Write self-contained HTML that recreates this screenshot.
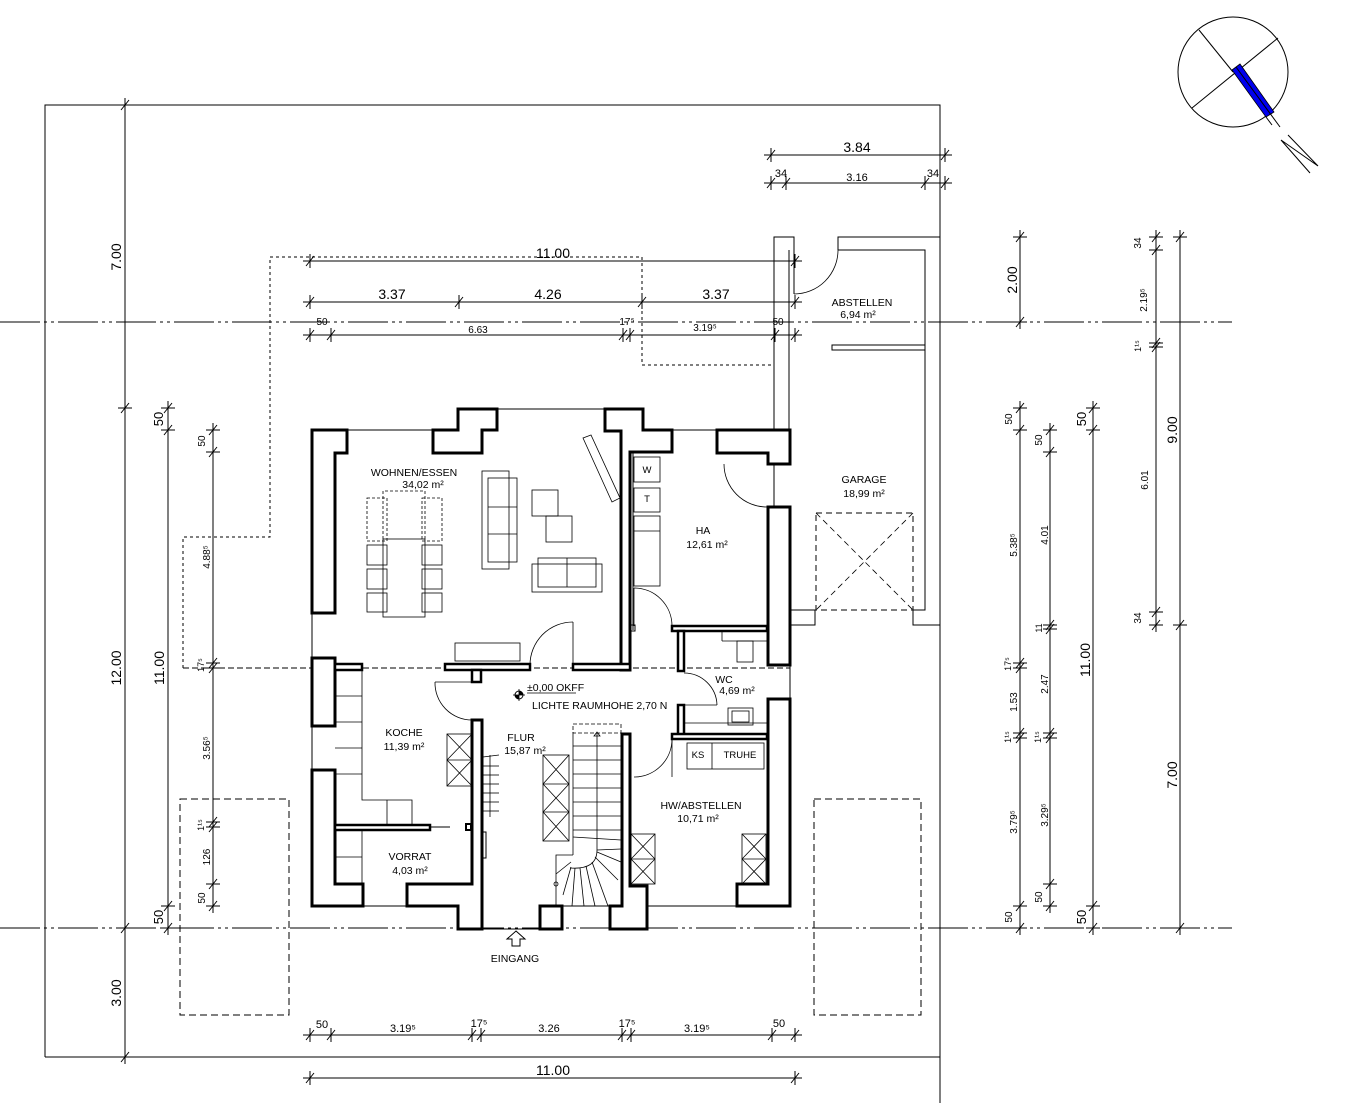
<!DOCTYPE html>
<html><head><meta charset="utf-8"><style>
html,body{margin:0;padding:0;background:#fff;}
svg{display:block;}
text{font-family:"Liberation Sans",sans-serif;fill:#000;}
.d{font-size:13px;}
.r{font-size:10.5px;}
.w{fill:#fff;stroke:#000;stroke-width:3;stroke-linejoin:miter;}
.t{fill:none;stroke:#000;stroke-width:1;}
.th{fill:none;stroke:#000;stroke-width:0.8;}
</style></head><body>
<svg width="1357" height="1103" viewBox="0 0 1357 1103" xmlns="http://www.w3.org/2000/svg">
<defs>
<g id="k"><line x1="0" y1="-7" x2="0" y2="7" stroke="#000" stroke-width="1"/><line x1="-7" y1="0" x2="7" y2="0" stroke="#000" stroke-width="1"/><line x1="-4" y1="5" x2="4" y2="-5" stroke="#000" stroke-width="1"/></g>
</defs>

<!-- site boundary -->
<polyline class="t" points="45,1057 45,105 940,105 940,1103"/>
<line class="t" x1="45" y1="1057" x2="940" y2="1057"/>

<!-- axis lines -->
<line x1="0" y1="322" x2="1232" y2="322" stroke="#000" stroke-width="1" stroke-dasharray="40,4,3,4,3,4"/>
<line x1="0" y1="928" x2="1232" y2="928" stroke="#000" stroke-width="1" stroke-dasharray="40,4,3,4,3,4"/>
<line x1="183" y1="668" x2="790" y2="668" stroke="#000" stroke-width="1" stroke-dasharray="6,3"/>

<!-- dotted overhang -->
<polyline fill="none" stroke="#000" stroke-width="1" stroke-dasharray="3,3" points="183,668 183,537 270,537 270,257 642,257 642,365 774,365"/>
<!-- bottom dashed rects -->
<rect x="180" y="799" width="109" height="216" fill="none" stroke="#000" stroke-width="1" stroke-dasharray="7,4"/>
<rect x="814" y="799" width="107" height="216" fill="none" stroke="#000" stroke-width="1" stroke-dasharray="7,4"/>

<!-- abstellen / garage thin walls -->
<polyline class="t" points="774,612 774,237 794,237 794,294"/>
<line class="t" x1="789" y1="250" x2="789" y2="430"/>
<path class="th" d="M794,294 A44,44 0 0 0 838,250"/>
<polyline class="t" points="838,250 838,237 940,237"/>
<polyline class="t" points="838,250 925,250 925,610 913,610 913,625 940,625"/>
<polyline class="t" points="790,610 815,610 815,625 790,625"/>
<rect class="t" x="832" y="345" width="93" height="5"/>
<rect x="816" y="513" width="97" height="97" fill="none" stroke="#000" stroke-width="1" stroke-dasharray="6,4"/>
<line x1="816" y1="513" x2="913" y2="610" stroke="#000" stroke-width="0.8" stroke-dasharray="6,4"/>
<line x1="913" y1="513" x2="816" y2="610" stroke="#000" stroke-width="0.8" stroke-dasharray="6,4"/>

<!-- thin outline between walls -->
<line class="t" x1="347" y1="430" x2="433" y2="430"/>
<line class="t" x1="497" y1="409" x2="605" y2="409"/>
<line class="t" x1="672" y1="430" x2="717" y2="430"/>
<line class="t" x1="312" y1="613" x2="312" y2="770"/>
<line class="t" x1="790" y1="665" x2="790" y2="699"/>
<line class="t" x1="363" y1="906" x2="407" y2="906"/>
<line class="t" x1="647" y1="906" x2="737" y2="906"/>
<line class="t" x1="482" y1="929" x2="540" y2="929"/>
<line class="t" x1="562" y1="906" x2="610" y2="906"/>

<!-- walls -->
<polygon class="w" points="312,430 347,430 347,453 335,453 335,613 312,613"/>
<polygon class="w" points="433,430 458,430 458,409 497,409 497,430 482,430 482,453 433,453"/>
<polygon class="w" points="605,409 643,409 643,430 672,430 672,452 630,452 630,670 621,670 621,431 605,431"/>
<polygon class="w" points="717,430 790,430 790,464 768,464 768,453 717,453"/>
<rect class="w" x="768" y="507" width="22" height="158"/>
<polygon class="w" points="768,699 790,699 790,906 737,906 737,884 768,884"/>
<rect class="w" x="312" y="658" width="23" height="68"/>
<polygon class="w" points="312,770 335,770 335,884 363,884 363,906 312,906"/>
<polygon class="w" points="407,884 472,884 472,720 482,720 482,929 458,929 458,906 407,906"/>
<rect class="w" x="540" y="906" width="22" height="23"/>
<polygon class="w" points="622,734 630,734 630,886 647,886 647,929 610,929 610,906 622,906"/>
<rect class="w" x="335" y="664" width="27" height="6" style="stroke-width:2.5"/>
<rect class="w" x="445" y="664" width="85" height="6" style="stroke-width:2.5"/>
<rect class="w" x="472" y="670" width="9" height="12" style="stroke-width:2.5"/>
<rect class="w" x="573" y="664" width="57" height="6" style="stroke-width:2.5"/>
<rect class="w" x="672" y="626" width="95" height="5" style="stroke-width:2.5"/>
<rect class="w" x="678" y="631" width="6" height="40" style="stroke-width:2.5"/>
<rect class="w" x="678" y="705" width="6" height="30" style="stroke-width:2.5"/>
<rect class="w" x="672" y="734" width="95" height="5" style="stroke-width:2.5"/>
<rect class="w" x="335" y="825" width="95" height="5" style="stroke-width:2.5"/>
<line class="t" x1="430" y1="827" x2="450" y2="827"/>
<rect class="w" x="466" y="824" width="5" height="6" style="stroke-width:2"/>
<line class="t" x1="633" y1="452" x2="633" y2="630"/>
<rect class="t" x="631" y="625" width="4" height="6"/>
<line class="th" x1="684" y1="705" x2="717" y2="705"/>
<line class="th" x1="684" y1="723" x2="767" y2="723"/>
<rect class="t" x="483" y="832" width="3" height="26"/>

<!-- doors -->
<path class="th" d="M724,464 A43,43 0 0 0 767,507"/>
<path class="th" d="M634,588 A38,38 0 0 1 672,626"/>
<line class="th" x1="634" y1="588" x2="634" y2="626"/>
<path class="th" d="M530,665 A43,43 0 0 1 573,622"/>
<line class="th" x1="573" y1="622" x2="573" y2="665"/>
<path class="th" d="M435,682 A37,37 0 0 0 472,720"/>
<line class="th" x1="435" y1="682" x2="472" y2="682"/>
<path class="th" d="M684,673 A33,33 0 0 1 717,705"/>
<path class="th" d="M634,777 A38,38 0 0 0 672,739"/>
<line class="th" x1="672" y1="739" x2="672" y2="777"/>

<!-- furniture -->
<rect class="th" x="482" y="471" width="27" height="98"/>
<rect class="th" x="488" y="478" width="29" height="84"/>
<line class="th" x1="488" y1="507" x2="517" y2="507"/><line class="th" x1="488" y1="534" x2="517" y2="534"/>
<rect class="th" x="532" y="490" width="26" height="26"/>
<rect class="th" x="546" y="516" width="26" height="26"/>
<rect class="th" x="532" y="564" width="70" height="28"/>
<rect class="th" x="538" y="558" width="58" height="29" fill="#fff"/>
<line class="th" x1="567" y1="558" x2="567" y2="587"/>
<polygon class="th" points="583,438 591,435 620,498 612,502"/>
<rect class="th" x="383" y="539" width="42" height="78"/>
<rect class="th" x="367" y="545" width="20" height="20"/><rect class="th" x="367" y="569" width="20" height="20"/><rect class="th" x="367" y="593" width="20" height="19"/>
<rect class="th" x="422" y="545" width="20" height="20"/><rect class="th" x="422" y="569" width="20" height="20"/><rect class="th" x="422" y="593" width="20" height="19"/>
<g stroke="#000" stroke-width="0.8" fill="none" stroke-dasharray="3,2">
<rect x="367" y="498" width="20" height="43"/><rect x="422" y="498" width="20" height="43"/>
<polyline points="383,539 383,491 425,491 425,539"/>
</g>
<rect class="th" x="455" y="643" width="65" height="18"/>
<rect class="th" x="634" y="457" width="26" height="25"/>
<rect class="th" x="634" y="488" width="26" height="24"/>
<rect class="th" x="634" y="516" width="26" height="70"/>
<line class="th" x1="634" y1="531" x2="660" y2="531"/>
<rect class="th" x="737" y="641" width="16" height="21"/>
<line class="th" x1="722" y1="631" x2="722" y2="641"/><line class="th" x1="722" y1="641" x2="767" y2="641"/>
<rect class="th" x="728" y="708" width="25" height="17"/>
<rect class="th" x="732" y="711" width="17" height="11"/>
<rect class="th" x="687" y="743" width="77" height="26"/>
<line class="th" x1="712" y1="743" x2="712" y2="769"/>
<g class="th">
<rect x="631" y="834" width="24" height="50"/><line x1="631" y1="834" x2="655" y2="859"/><line x1="655" y1="834" x2="631" y2="859"/><line x1="631" y1="859" x2="655" y2="884"/><line x1="655" y1="859" x2="631" y2="884"/><line x1="631" y1="859" x2="655" y2="859"/>
<rect x="742" y="834" width="24" height="50"/><line x1="742" y1="834" x2="766" y2="859"/><line x1="766" y1="834" x2="742" y2="859"/><line x1="742" y1="859" x2="766" y2="884"/><line x1="766" y1="859" x2="742" y2="884"/><line x1="742" y1="859" x2="766" y2="859"/>
<rect x="447" y="734" width="25" height="52"/><line x1="447" y1="734" x2="472" y2="760"/><line x1="472" y1="734" x2="447" y2="760"/><line x1="447" y1="760" x2="472" y2="786"/><line x1="472" y1="760" x2="447" y2="786"/><line x1="447" y1="760" x2="472" y2="760"/>
<rect x="543" y="755" width="26" height="86"/>
<line x1="543" y1="784" x2="569" y2="784"/><line x1="543" y1="812" x2="569" y2="812"/>
<line x1="543" y1="755" x2="569" y2="784"/><line x1="569" y1="755" x2="543" y2="784"/>
<line x1="543" y1="784" x2="569" y2="812"/><line x1="569" y1="784" x2="543" y2="812"/>
<line x1="543" y1="812" x2="569" y2="841"/><line x1="569" y1="812" x2="543" y2="841"/>
<!-- kitchen counter -->
<polyline points="362,670 362,800 412,800 412,825"/>
<line x1="387" y1="800" x2="387" y2="825"/>
<line x1="335" y1="696" x2="362" y2="696"/><line x1="335" y1="722" x2="362" y2="722"/><line x1="335" y1="748" x2="362" y2="748"/><line x1="335" y1="774" x2="362" y2="774"/>
<line x1="362" y1="830" x2="362" y2="884"/><line x1="335" y1="857" x2="362" y2="857"/>
<!-- rail stair -->
<line x1="483" y1="757" x2="499" y2="755"/><line x1="483" y1="766" x2="499" y2="766"/><line x1="483" y1="775" x2="499" y2="775"/><line x1="483" y1="784" x2="499" y2="784"/><line x1="483" y1="793" x2="499" y2="793"/><line x1="483" y1="802" x2="499" y2="802"/><line x1="483" y1="811" x2="499" y2="811"/>
<line x1="490" y1="755" x2="490" y2="817"/>
<!-- stairs -->
<line x1="573" y1="732" x2="573" y2="855"/>
<line x1="573" y1="746" x2="621" y2="746"/><line x1="573" y1="760" x2="621" y2="760"/><line x1="573" y1="774" x2="621" y2="774"/><line x1="573" y1="788" x2="621" y2="788"/><line x1="573" y1="802" x2="621" y2="802"/><line x1="573" y1="816" x2="621" y2="816"/><line x1="573" y1="830" x2="621" y2="830"/><line x1="573" y1="837" x2="621" y2="840"/>
<line x1="597" y1="733" x2="597" y2="850"/>
<path d="M597,850 Q597,870 570,868"/>
<polyline points="573,855 556,855 556,906"/>
<line x1="597" y1="850" x2="621" y2="849"/><line x1="597" y1="852" x2="621" y2="862"/><line x1="595" y1="857" x2="618" y2="880"/><line x1="592" y1="862" x2="608" y2="906"/><line x1="586" y1="866" x2="595" y2="906"/><line x1="580" y1="868" x2="584" y2="906"/><line x1="575" y1="868" x2="572" y2="906"/><line x1="571" y1="867" x2="563" y2="895"/><line x1="571" y1="862" x2="556" y2="874"/>
<circle cx="556" cy="884" r="2"/>
</g>
<rect x="573" y="724" width="48" height="9" fill="none" stroke="#000" stroke-width="0.8" stroke-dasharray="4,2"/>
<polygon points="600,736 597,732 594,736" fill="none" stroke="#000" stroke-width="0.8"/>

<!-- level marker -->
<circle cx="519" cy="695" r="4" fill="none" stroke="#000"/><path d="M519,691 A4,4 0 0 1 523,695 L519,695Z M515,695 A4,4 0 0 0 519,699 L519,695Z" fill="#000"/>
<line class="th" x1="513" y1="695" x2="525" y2="695"/><line class="th" x1="519" y1="689" x2="519" y2="701"/>
<line class="th" x1="527" y1="693" x2="576" y2="693"/>

<!-- entrance arrow -->
<polygon points="516,931 525,939 520,939 520,946 512,946 512,939 507,939" fill="#fff" stroke="#000" stroke-width="1"/>

<!-- room labels -->
<g class="r">
<text x="414" y="476" text-anchor="middle">WOHNEN/ESSEN</text>
<text x="423" y="488" text-anchor="middle">34,02  m²</text>
<text x="703" y="534" text-anchor="middle">HA</text>
<text x="707" y="548" text-anchor="middle">12,61  m²</text>
<text x="862" y="306" text-anchor="middle">ABSTELLEN</text>
<text x="858" y="318" text-anchor="middle">6,94  m²</text>
<text x="864" y="483" text-anchor="middle">GARAGE</text>
<text x="864" y="497" text-anchor="middle">18,99  m²</text>
<text x="724" y="683" text-anchor="middle">WC</text>
<text x="737" y="694" text-anchor="middle">4,69  m²</text>
<text x="527" y="691">±0,00  OKFF</text>
<text x="532" y="709">LICHTE  RAUMHOHE  2,70  N</text>
<text x="404" y="736" text-anchor="middle">KOCHE</text>
<text x="404" y="750" text-anchor="middle">11,39  m²</text>
<text x="521" y="741" text-anchor="middle">FLUR</text>
<text x="525" y="754" text-anchor="middle">15,87  m²</text>
<text x="701" y="809" text-anchor="middle">HW/ABSTELLEN</text>
<text x="698" y="822" text-anchor="middle">10,71  m²</text>
<text x="410" y="860" text-anchor="middle">VORRAT</text>
<text x="410" y="874" text-anchor="middle">4,03  m²</text>
<text x="515" y="962" text-anchor="middle">EINGANG</text>
<text x="698" y="758" text-anchor="middle" font-size="9.5">KS</text>
<text x="740" y="758" text-anchor="middle" font-size="9.5">TRUHE</text>
<text x="647" y="473" text-anchor="middle" font-size="9.5">W</text>
<text x="647" y="502" text-anchor="middle" font-size="9.5">T</text>
</g>

<!-- horizontal dims -->
<g class="t">
<line x1="771" y1="155" x2="945" y2="155"/>
<line x1="771" y1="183" x2="945" y2="183"/>
<line x1="310" y1="261" x2="795" y2="261"/>
<line x1="310" y1="302" x2="795" y2="302"/>
<line x1="310" y1="335" x2="795" y2="335"/>
<line x1="310" y1="1035" x2="795" y2="1035"/>
<line x1="310" y1="1078" x2="795" y2="1078"/>
<line x1="125" y1="105" x2="125" y2="1060"/>
<line x1="168" y1="403" x2="168" y2="933"/>
<line x1="213" y1="425" x2="213" y2="911"/>
<line x1="1020" y1="232" x2="1020" y2="327"/>
<line x1="1020" y1="403" x2="1020" y2="933"/>
<line x1="1050" y1="425" x2="1050" y2="911"/>
<line x1="1093" y1="403" x2="1093" y2="933"/>
<line x1="1156" y1="232" x2="1156" y2="630"/>
<line x1="1180" y1="232" x2="1180" y2="933"/>
</g>
<g>
<use href="#k" x="771" y="155"/><use href="#k" x="945" y="155"/>
<use href="#k" x="771" y="183"/><use href="#k" x="786" y="183"/><use href="#k" x="925" y="183"/><use href="#k" x="945" y="183"/>
<use href="#k" x="310" y="261"/><use href="#k" x="795" y="261"/>
<use href="#k" x="310" y="302"/><use href="#k" x="459" y="302"/><use href="#k" x="642" y="302"/><use href="#k" x="795" y="302"/>
<use href="#k" x="310" y="335"/><use href="#k" x="331" y="335"/><use href="#k" x="623" y="335"/><use href="#k" x="630" y="335"/><use href="#k" x="775" y="335"/><use href="#k" x="795" y="335"/>
<use href="#k" x="310" y="1035"/><use href="#k" x="331" y="1035"/><use href="#k" x="472" y="1035"/><use href="#k" x="481" y="1035"/><use href="#k" x="622" y="1035"/><use href="#k" x="631" y="1035"/><use href="#k" x="772" y="1035"/><use href="#k" x="795" y="1035"/>
<use href="#k" x="310" y="1078"/><use href="#k" x="795" y="1078"/>
<use href="#k" x="125" y="105"/><use href="#k" x="125" y="408"/><use href="#k" x="125" y="928"/><use href="#k" x="125" y="1057"/>
<use href="#k" x="168" y="408"/><use href="#k" x="168" y="430"/><use href="#k" x="168" y="906"/><use href="#k" x="168" y="928"/>
<use href="#k" x="213" y="430"/><use href="#k" x="213" y="452"/><use href="#k" x="213" y="663"/><use href="#k" x="213" y="668"/><use href="#k" x="213" y="822"/><use href="#k" x="213" y="827"/><use href="#k" x="213" y="884"/><use href="#k" x="213" y="906"/>
<use href="#k" x="1020" y="237"/><use href="#k" x="1020" y="322"/>
<use href="#k" x="1020" y="408"/><use href="#k" x="1020" y="430"/><use href="#k" x="1020" y="663"/><use href="#k" x="1020" y="668"/><use href="#k" x="1020" y="733"/><use href="#k" x="1020" y="738"/><use href="#k" x="1020" y="906"/><use href="#k" x="1020" y="928"/>
<use href="#k" x="1050" y="430"/><use href="#k" x="1050" y="452"/><use href="#k" x="1050" y="625"/><use href="#k" x="1050" y="629"/><use href="#k" x="1050" y="733"/><use href="#k" x="1050" y="738"/><use href="#k" x="1050" y="884"/><use href="#k" x="1050" y="906"/>
<use href="#k" x="1093" y="408"/><use href="#k" x="1093" y="430"/><use href="#k" x="1093" y="906"/><use href="#k" x="1093" y="928"/>
<use href="#k" x="1156" y="237"/><use href="#k" x="1156" y="250"/><use href="#k" x="1156" y="343"/><use href="#k" x="1156" y="347"/><use href="#k" x="1156" y="612"/><use href="#k" x="1156" y="625"/>
<use href="#k" x="1180" y="237"/><use href="#k" x="1180" y="625"/><use href="#k" x="1180" y="928"/>
</g>

<g class="d">
<text x="857" y="152" text-anchor="middle" font-size="14">3.84</text>
<text x="857" y="181" text-anchor="middle" font-size="11">3.16</text>
<text x="781" y="177" text-anchor="middle" font-size="11">34</text>
<text x="933" y="177" text-anchor="middle" font-size="11">34</text>
<text x="553" y="258" text-anchor="middle" font-size="14">11.00</text>
<text x="392" y="299" text-anchor="middle" font-size="14">3.37</text>
<text x="548" y="299" text-anchor="middle" font-size="14">4.26</text>
<text x="716" y="299" text-anchor="middle" font-size="14">3.37</text>
<text x="322" y="325" text-anchor="middle" font-size="10">50</text>
<text x="478" y="333" text-anchor="middle" font-size="10">6.63</text>
<text x="627" y="325" text-anchor="middle" font-size="10">17⁵</text>
<text x="705" y="331" text-anchor="middle" font-size="10">3.19⁵</text>
<text x="778" y="325" text-anchor="middle" font-size="10">50</text>
<text x="322" y="1028" text-anchor="middle" font-size="11">50</text>
<text x="403" y="1032" text-anchor="middle" font-size="11">3.19⁵</text>
<text x="479" y="1027" text-anchor="middle" font-size="11">17⁵</text>
<text x="549" y="1032" text-anchor="middle" font-size="11">3.26</text>
<text x="627" y="1027" text-anchor="middle" font-size="11">17⁵</text>
<text x="697" y="1032" text-anchor="middle" font-size="11">3.19⁵</text>
<text x="779" y="1027" text-anchor="middle" font-size="11">50</text>
<text x="553" y="1075" text-anchor="middle" font-size="14">11.00</text>
</g>
<g class="d">
<text transform="translate(121,257) rotate(-90)" text-anchor="middle" font-size="14">7.00</text>
<text transform="translate(121,668) rotate(-90)" text-anchor="middle" font-size="14">12.00</text>
<text transform="translate(121,993) rotate(-90)" text-anchor="middle" font-size="14">3.00</text>
<text transform="translate(163,419) rotate(-90)" text-anchor="middle" font-size="13">50</text>
<text transform="translate(164,668) rotate(-90)" text-anchor="middle" font-size="14">11.00</text>
<text transform="translate(163,917) rotate(-90)" text-anchor="middle" font-size="13">50</text>
<text transform="translate(205,441) rotate(-90)" text-anchor="middle" font-size="10">50</text>
<text transform="translate(210,557) rotate(-90)" text-anchor="middle" font-size="10">4.88⁵</text>
<text transform="translate(204,665) rotate(-90)" text-anchor="middle" font-size="9">17⁵</text>
<text transform="translate(210,748) rotate(-90)" text-anchor="middle" font-size="10">3.56⁵</text>
<text transform="translate(204,825) rotate(-90)" text-anchor="middle" font-size="9">1¹⁵</text>
<text transform="translate(210,857) rotate(-90)" text-anchor="middle" font-size="10">126</text>
<text transform="translate(205,898) rotate(-90)" text-anchor="middle" font-size="10">50</text>
<text transform="translate(1017,280) rotate(-90)" text-anchor="middle" font-size="14">2.00</text>
<text transform="translate(1012,419) rotate(-90)" text-anchor="middle" font-size="10">50</text>
<text transform="translate(1017,545) rotate(-90)" text-anchor="middle" font-size="10">5.38⁵</text>
<text transform="translate(1011,664) rotate(-90)" text-anchor="middle" font-size="9">17⁵</text>
<text transform="translate(1017,702) rotate(-90)" text-anchor="middle" font-size="10">1.53</text>
<text transform="translate(1011,737) rotate(-90)" text-anchor="middle" font-size="9">1¹⁵</text>
<text transform="translate(1017,822) rotate(-90)" text-anchor="middle" font-size="10">3.79⁵</text>
<text transform="translate(1012,917) rotate(-90)" text-anchor="middle" font-size="10">50</text>
<text transform="translate(1042,440) rotate(-90)" text-anchor="middle" font-size="10">50</text>
<text transform="translate(1048,535) rotate(-90)" text-anchor="middle" font-size="10">4.01</text>
<text transform="translate(1042,628) rotate(-90)" text-anchor="middle" font-size="9">11</text>
<text transform="translate(1048,684) rotate(-90)" text-anchor="middle" font-size="10">2.47</text>
<text transform="translate(1041,737) rotate(-90)" text-anchor="middle" font-size="9">1¹⁵</text>
<text transform="translate(1048,815) rotate(-90)" text-anchor="middle" font-size="10">3.29⁵</text>
<text transform="translate(1042,897) rotate(-90)" text-anchor="middle" font-size="10">50</text>
<text transform="translate(1086,419) rotate(-90)" text-anchor="middle" font-size="13">50</text>
<text transform="translate(1090,660) rotate(-90)" text-anchor="middle" font-size="14">11.00</text>
<text transform="translate(1086,917) rotate(-90)" text-anchor="middle" font-size="13">50</text>
<text transform="translate(1141,243) rotate(-90)" text-anchor="middle" font-size="10">34</text>
<text transform="translate(1147,300) rotate(-90)" text-anchor="middle" font-size="10">2.19⁵</text>
<text transform="translate(1141,346) rotate(-90)" text-anchor="middle" font-size="9">1¹⁵</text>
<text transform="translate(1148,480) rotate(-90)" text-anchor="middle" font-size="10">6.01</text>
<text transform="translate(1141,618) rotate(-90)" text-anchor="middle" font-size="10">34</text>
<text transform="translate(1177,430) rotate(-90)" text-anchor="middle" font-size="14">9.00</text>
<text transform="translate(1177,775) rotate(-90)" text-anchor="middle" font-size="14">7.00</text>
</g>

<!-- compass -->
<circle cx="1233" cy="72" r="55" fill="none" stroke="#000" stroke-width="1"/>
<line class="t" x1="1199" y1="30" x2="1233" y2="72"/>
<line class="t" x1="1278" y1="38" x2="1192" y2="108"/>
<polygon points="1232,70 1240,64 1274,112 1266,117" fill="#0000ee" stroke="#000" stroke-width="0.8"/>
<line class="t" x1="1236" y1="67" x2="1280" y2="127"/>
<line class="t" x1="1266" y1="117" x2="1272" y2="125"/>
<polyline class="t" points="1288,135 1318,166 1281,140 1310,173"/>
</svg>
</body></html>
